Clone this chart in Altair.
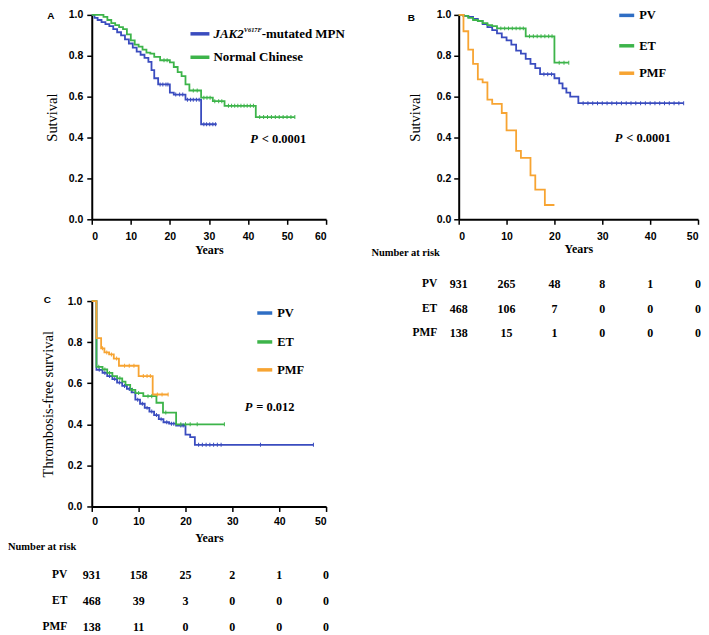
import altair as alt
import pandas as pd

BLUE = "#3a4cbf"
BLUE_KEY = "#2f6ec4"
GREEN = "#3db44a"
ORANGE = "#f7a432"
SERIF = "Liberation Serif"
SANS = "Liberation Sans"

# ---------------- Panel A: overall survival ----------------
a_jak_t = [0, 0.7, 1.5, 2.5, 3.5, 4.5, 5.5, 6.5, 7.5, 8.5, 9.5, 10.5, 11.5, 12.5, 13.5, 14.5, 15.3, 16, 17, 20, 21, 24, 28, 32]
a_jak_s = [1.0, 0.985, 0.975, 0.965, 0.955, 0.945, 0.93, 0.915, 0.90, 0.88, 0.86, 0.84, 0.82, 0.805, 0.79, 0.77, 0.73, 0.69, 0.66, 0.62, 0.61, 0.585, 0.465, 0.465]
a_jak_c = [17.5, 18.2, 19, 19.5, 21.5, 22.5, 23.3, 24.5, 25.3, 26, 26.8, 27.5, 28.7, 29.4, 30.2, 31, 31.7]

a_nor_t = [0, 3, 4, 5, 6, 7, 8, 9, 10, 11, 12, 13, 14, 15, 16, 17.5, 20, 21, 22, 23, 24, 25, 28, 31, 34, 42, 52]
a_nor_s = [1.0, 0.99, 0.975, 0.96, 0.95, 0.94, 0.93, 0.905, 0.875, 0.855, 0.845, 0.83, 0.815, 0.81, 0.795, 0.778, 0.768, 0.745, 0.72, 0.70, 0.66, 0.63, 0.595, 0.578, 0.555, 0.50, 0.50]
a_nor_c = [18.5, 19.3, 26, 27, 28.7, 29.5, 30.3, 31.5, 32.5, 33.3, 35, 35.8, 36.6, 37.4, 38.2, 39, 39.8, 40.6, 41.4,
           43, 44, 45, 46, 47, 48, 49, 50, 51, 52]

# ---------------- Panel B: survival by subtype ----------------
b_pv_t = [0, 1, 2, 3, 4, 5, 6, 7, 8, 9, 10, 11, 12, 13, 14, 15, 16, 17, 20, 21, 21.7, 22.5, 23.3, 25, 47]
b_pv_s = [1.0, 0.995, 0.99, 0.98, 0.97, 0.955, 0.94, 0.925, 0.91, 0.89, 0.875, 0.855, 0.825, 0.81, 0.785, 0.76, 0.74, 0.71, 0.69, 0.665, 0.64, 0.62, 0.60, 0.568, 0.568]
b_pv_c = [17.8, 18.6, 19.4, 26, 27, 28, 29, 30, 31, 32, 33, 34, 35, 36, 37, 38, 39, 40, 41, 42, 43, 44, 45, 46, 47]

b_et_t = [0, 1, 2, 3, 4, 5, 6, 7, 8, 14, 20, 23]
b_et_s = [1.0, 0.995, 0.985, 0.975, 0.97, 0.96, 0.95, 0.945, 0.934, 0.895, 0.766, 0.766]
b_et_c = [8.8, 9.6, 10.4, 11.2, 12, 12.8, 13.5, 14.8, 15.6, 16.4, 17.2, 18, 18.8, 19.5, 21, 22, 23]

b_pmf_t = [0, 1, 2, 3, 4, 5, 6, 7, 9, 10, 12, 13, 15, 16, 18, 20]
b_pmf_s = [1.0, 0.92, 0.83, 0.76, 0.685, 0.67, 0.585, 0.565, 0.52, 0.435, 0.335, 0.30, 0.215, 0.145, 0.07, 0.07]
b_pmf_c = []

# ---------------- Panel C: thrombosis-free survival ----------------
c_pv_t = [0, 1, 2.3, 3.3, 4.4, 5.4, 6.5, 7.5, 8.5, 9.3, 10.3, 11.3, 12.3, 13.3, 14.3, 15.3, 16.5, 18, 20, 21, 22, 47.3]
c_pv_s = [1.0, 0.665, 0.65, 0.635, 0.62, 0.603, 0.587, 0.572, 0.555, 0.52, 0.50, 0.48, 0.462, 0.445, 0.425, 0.41, 0.403, 0.394, 0.35, 0.338, 0.30, 0.30]
c_pv_c = [1.6, 2.8, 3.8, 4.9, 5.9, 7, 8, 9.8, 10.8, 11.8, 12.8, 13.8, 14.8, 16, 17, 17.5, 19, 19.5,
          22.8, 23.6, 24.4, 25.2, 26, 26.8, 27.6, 36, 47.3]

c_et_t = [0, 1, 2.3, 3.3, 4.4, 5.4, 6.5, 7.2, 8.2, 9.3, 11, 13.8, 15.2, 18, 28.3]
c_et_s = [1.0, 0.68, 0.667, 0.65, 0.635, 0.624, 0.608, 0.592, 0.568, 0.552, 0.537, 0.505, 0.457, 0.40, 0.40]
c_et_c = [1.5, 2.8, 3.8, 6, 8.7, 10, 12, 12.8, 15.8, 19, 20, 21, 22.5, 28.3]

c_pmf_t = [0, 1, 2, 2.7, 3.7, 4.7, 5.8, 10, 13, 16.3]
c_pmf_s = [1.0, 0.82, 0.77, 0.75, 0.74, 0.72, 0.685, 0.635, 0.545, 0.545]
c_pmf_c = [2.3, 3.2, 4.2, 5.3, 7, 8, 9, 11, 11.8, 12.5, 14, 15, 16.3]

# ---------------- Number at risk ----------------
risk_years = [0, 10, 20, 30, 40, 50]
b_risk_pv = [931, 265, 48, 8, 1, 0]
b_risk_et = [468, 106, 7, 0, 0, 0]
b_risk_pmf = [138, 15, 1, 0, 0, 0]
c_risk_pv = [931, 158, 25, 2, 1, 0]
c_risk_et = [468, 39, 3, 0, 0, 0]
c_risk_pmf = [138, 11, 0, 0, 0, 0]

y_ticks = [0.0, 0.2, 0.4, 0.6, 0.8, 1.0]
series_names = ["JAK2", "Normal", "PV", "ET", "PMF"]
series_colors = [BLUE, GREEN, BLUE, GREEN, ORANGE]
ONE = alt.Data(values=[{}])

COLOR = alt.Color("g:N", scale=alt.Scale(domain=series_names, range=series_colors), legend=None)


def step_at(ts, ss, x):
    v = ss[0]
    for t, s in zip(ts, ss):
        if t <= x:
            v = s
    return v


def txt(s, x, y, size=12.5, weight="bold", style="normal", font=SERIF, align="left"):
    return alt.Chart(ONE).mark_text(
        text=s, font=font, fontSize=size, fontWeight=weight, fontStyle=style,
        align=align, baseline="middle", color="black"
    ).encode(x=alt.value(x), y=alt.value(y))


def key(color, x1, x2, y):
    return alt.Chart(ONE).mark_rule(color=color, strokeWidth=3.5).encode(
        x=alt.value(x1), x2=alt.value(x2), y=alt.value(y))


def km_layers(curves, xmax, xticks, ytitle, ypad, ylp, xlp, xtp):
    frames, cframes = [], []
    for name, ts, ss, cens in curves:
        frames.append(pd.DataFrame({"t": ts, "s": ss, "g": name}))
        cframes.append(pd.DataFrame({"t": cens, "s": [step_at(ts, ss, c) for c in cens], "g": name}))
    xs = alt.Scale(domain=[0, xmax], nice=False)
    ys = alt.Scale(domain=[0, 1], nice=False)
    xa = alt.Axis(values=xticks, title="Years", labelPadding=xlp, titlePadding=xtp)
    ya = alt.Axis(values=y_ticks, format=".1f", title=ytitle, titlePadding=ypad, labelPadding=ylp)
    lines = alt.Chart(pd.concat(frames)).mark_line(interpolate="step-after", strokeWidth=1.8).encode(
        x=alt.X("t:Q", scale=xs, axis=xa),
        y=alt.Y("s:Q", scale=ys, axis=ya),
        color=COLOR,
    )
    cdf = pd.concat([f for f in cframes if len(f)])
    ticks = alt.Chart(cdf).mark_tick(orient="vertical", size=4, thickness=1, opacity=1).encode(
        x=alt.X("t:Q", scale=xs, axis=xa),
        y=alt.Y("s:Q", scale=ys, axis=ya),
        color=COLOR,
    )
    return [lines, ticks], xs, xa


def risk_row(label, counts, y, xs, xa, label_x):
    df = pd.DataFrame({"t": risk_years, "n": counts})
    nums = alt.Chart(df).mark_text(font=SERIF, fontSize=12, fontWeight="bold", baseline="middle",
                                   align="center", color="black").encode(
        x=alt.X("t:Q", scale=xs, axis=xa), y=alt.value(y), text=alt.Text("n:Q", format="d"))
    return [txt(label, label_x, y, size=11.5, align="right"), nums]


# ---- Panel A
a_layers, a_xs, a_xa = km_layers(
    [("JAK2", a_jak_t, a_jak_s, a_jak_c), ("Normal", a_nor_t, a_nor_s, a_nor_c)],
    60, [0, 10, 20, 30, 40, 50, 60], "Sutvival", 9, 4, 7, 3)
panel_a = alt.layer(
    *a_layers,
    txt("A", -41, 1, size=10, font=SANS, align="center"),
    key(BLUE, 99, 118, 19), key(GREEN, 99, 118, 42.5),
    txt("JAK2", 122, 19, size=13, style="italic"),
    txt("V617F", 152.5, 15, size=6.3, style="italic"),
    txt("-mutated MPN", 170.5, 19, size=13),
    txt("Normal Chinese", 122, 42.5, size=13),
    txt("P", 159, 124, size=12.5, style="italic"),
    txt("< 0.0001", 170.5, 124, size=12.5),
).properties(width=235, height=205)

# ---- Panel B
b_layers, b_xs, b_xa = km_layers(
    [("PV", b_pv_t, b_pv_s, b_pv_c), ("ET", b_et_t, b_et_s, b_et_c), ("PMF", b_pmf_t, b_pmf_s, b_pmf_c)],
    50, [0, 10, 20, 30, 40, 50], "Sutvival", 14, 3, 7, 2)
panel_b = alt.layer(
    *b_layers,
    txt("B", -47.5, 3, size=10, font=SANS, align="center"),
    key(BLUE_KEY, 161, 176, 0.5), key(GREEN, 161, 176, 31), key(ORANGE, 161, 176, 58.5),
    txt("PV", 181, 0.5), txt("ET", 181, 31), txt("PMF", 181, 58.5),
    txt("P", 156.5, 123, size=12.5, style="italic"),
    txt("< 0.0001", 168, 123, size=12.5),
    txt("Number at risk", -87.5, 239, size=10.5),
    *risk_row("PV", b_risk_pv, 270, b_xs, b_xa, -21.5),
    *risk_row("ET", b_risk_et, 295, b_xs, b_xa, -21.5),
    *risk_row("PMF", b_risk_pmf, 319, b_xs, b_xa, -21.5),
).properties(width=240, height=205)

# ---- Panel C
c_layers, c_xs, c_xa = km_layers(
    [("PV", c_pv_t, c_pv_s, c_pv_c), ("ET", c_et_t, c_et_s, c_et_c), ("PMF", c_pmf_t, c_pmf_s, c_pmf_c)],
    50, [0, 10, 20, 30, 40, 50], "Thrombosis-free survival", 12, 5, 5, 6)
panel_c = alt.layer(
    *c_layers,
    txt("C", -44.5, -1, size=10, font=SANS, align="center"),
    key(BLUE_KEY, 166, 181, 12), key(GREEN, 166, 181, 41), key(ORANGE, 166, 181, 69),
    txt("PV", 186, 12), txt("ET", 186, 41), txt("PMF", 186, 69),
    txt("P", 153.5, 106, size=12.5, style="italic"),
    txt("= 0.012", 165, 106, size=12.5),
    txt("Number at risk", -84, 247, size=10.5),
    *risk_row("PV", c_risk_pv, 275, c_xs, c_xa, -24.5),
    *risk_row("ET", c_risk_et, 301, c_xs, c_xa, -24.5),
    *risk_row("PMF", c_risk_pmf, 327, c_xs, c_xa, -24.5),
).properties(width=235, height=206)

chart = alt.concat(
    panel_a, panel_b, panel_c,
    columns=2, spacing={"row": 82, "column": 133}, bounds="flush", padding=0,
).configure_view(stroke=None).configure_axis(
    domainColor="black", domainWidth=2, tickColor="black", tickWidth=1.5, tickSize=5,
    labelFont=SANS, labelFontSize=10.5, labelFontWeight="bold", labelColor="black",
    grid=False, titleFont=SERIF, titleColor="black",
).configure_axisX(titleFontSize=12, titleFontWeight="bold").configure_axisY(
    titleFontSize=14.5, titleFontWeight="normal")

chart.save("out.html", embed_options={"renderer": "svg", "actions": False})
